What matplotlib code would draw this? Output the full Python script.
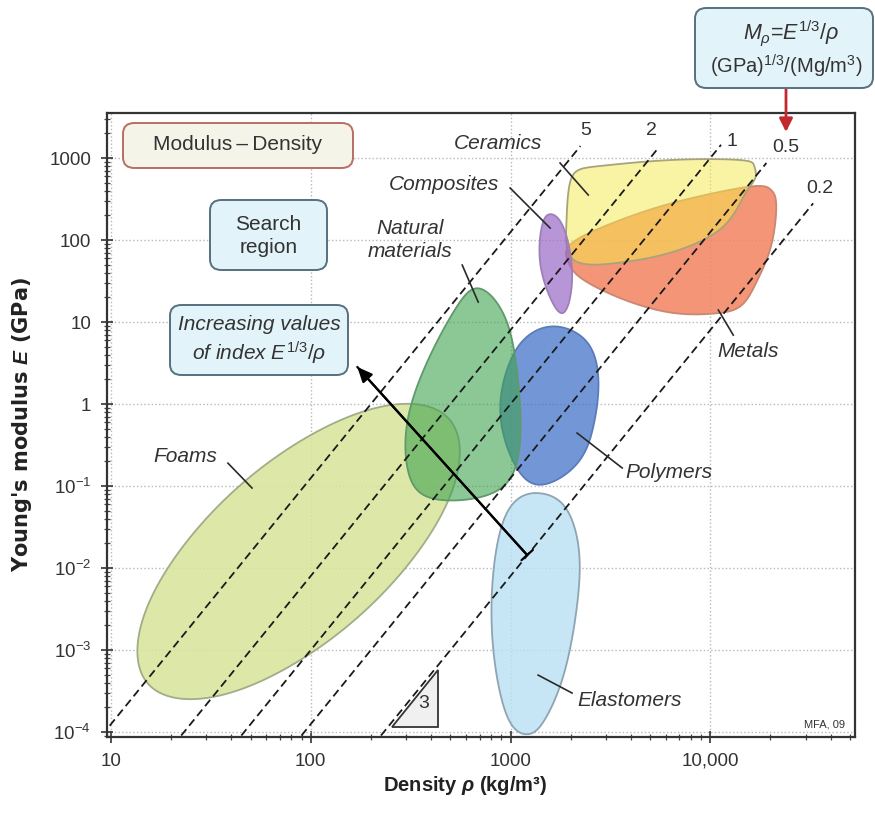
import numpy as np
import matplotlib
matplotlib.use("Agg")
import matplotlib.pyplot as plt
from matplotlib.colors import to_rgba
from matplotlib.patches import FancyBboxPatch, Polygon
from matplotlib.ticker import FixedLocator, FixedFormatter, LogLocator, NullFormatter

plt.rcParams['font.family'] = ['Liberation Sans', 'DejaVu Sans']
plt.rcParams['mathtext.fontset'] = 'custom'
plt.rcParams['mathtext.rm'] = 'Liberation Sans'
plt.rcParams['mathtext.it'] = 'Liberation Sans:italic'
plt.rcParams['mathtext.bf'] = 'Liberation Sans:italic:bold'
plt.rcParams['mathtext.default'] = 'regular'

# ---- material-family envelopes: density (kg/m^3), Young's modulus (GPa) ----
FOAMS_RHO = [494, 186, 44.7, 15.9, 15.3, 40.9, 170, 476]
FOAMS_E = [0.65, 0.82, 0.104, 4.34e-3, 3.9e-4, 3.09e-4, 2.45e-3, 0.0583]

NATURAL_RHO = [700, 944, 1084, 1122, 1012, 700, 403, 309, 305, 385, 531]
NATURAL_E = [25.6, 11.0, 2.21, 0.469, 0.132, 0.0729, 0.071, 0.1435, 0.621, 3.37, 14.6]

COMPOSITES_RHO = [1567, 1820, 2018, 1995, 1841, 1622, 1413, 1429]
COMPOSITES_E = [206, 151, 53.4, 21.0, 13.0, 17.3, 49, 139]

POLYMERS_RHO = [1718, 2427, 2754, 2600, 2163, 1479, 1084, 891, 989, 1245]
POLYMERS_E = [8.79, 5.6, 1.92, 0.54, 0.19, 0.105, 0.161, 0.715, 3.18, 7.0]

ELASTOMERS_RHO = [1396, 1862, 2188, 2163, 1862, 1479, 1216, 966, 822, 813, 902, 1084]
ELASTOMERS_E = [0.0817, 0.0566, 0.0183, 3.89e-3, 5.41e-4, 1.40e-4, 9.42e-5,
                1.52e-4, 9.5e-4, 6.84e-3, 0.0322, 0.0689]

CERAMICS_RHO = [2018, 2786, 6383, 13960, 16600, 16790, 14790, 11350, 6383, 3589, 2089, 1905]
CERAMICS_E = [569, 798, 946, 946, 798, 569, 352, 139, 70.7, 53.4, 56.5, 165]

METALS_RHO = [1972, 2951, 5248, 9333, 16600, 20180, 21380, 20180, 17180, 14290,
              10470, 6383, 3589, 2265, 1950]
METALS_E = [86.1, 147, 244, 352, 454, 406, 266, 86.1, 32.1, 15.9, 12.7, 13.0, 19.3, 34.0, 53.4]

# ---- index lines M = E^(1/3)/rho, (GPa)^(1/3)/(Mg/m^3) ----
MP_VALUES = [5, 2, 1, 0.5, 0.2]
LINE_TOP_E = [1400, 1250, 1450, 870, 280]
MP_LABEL_RHO = [2390, 5070, 12880, 23990, 35480]
MP_LABEL_E = [2190, 2190, 1570, 1325, 430]

# ---- axis ticks ----
X_TICKS = [10, 100, 1000, 10000]
X_TICK_LABELS = ['10', '100', '1000', '10,000']
Y_TICKS = [1e-4, 1e-3, 1e-2, 1e-1, 1, 10, 100, 1000]
Y_TICK_LABELS = ['$10^{-4}$', '$10^{-3}$', '$10^{-2}$', '$10^{-1}$', '1', '10', '100', '1000']

W, H = 875, 818
fig = plt.figure(figsize=(W / 100, H / 100), dpi=100)
fig.patch.set_facecolor('white')
ax = fig.add_axes([107 / W, 1 - 737 / H, 748 / W, 624 / H])
ax.set_xscale('log')
ax.set_yscale('log')
ax.set_xlim(9.55, 53000)
ax.set_ylim(8.7e-5, 3540)


def closed_spline(xs, ys, n=40):
    """Periodic cubic spline through envelope points, built in log-log space."""
    P = np.column_stack([np.log10(xs), np.log10(ys)])
    N = len(P)
    A = np.zeros((N, N))
    for i in range(N):
        A[i, i] = 4.0
        A[i, (i - 1) % N] = 1.0
        A[i, (i + 1) % N] = 1.0
    rhs = 6.0 * (np.roll(P, -1, 0) - 2 * P + np.roll(P, 1, 0))
    M = np.linalg.solve(A, rhs)
    t = np.linspace(0, 1, n, endpoint=False)[:, None]
    segs = []
    for i in range(N):
        p0, p1 = P[i], P[(i + 1) % N]
        m0, m1 = M[i], M[(i + 1) % N]
        segs.append((1 - t) * p0 + t * p1
                    + ((1 - t) ** 3 - (1 - t)) * m0 / 6 + (t ** 3 - t) * m1 / 6)
    C = np.vstack(segs)
    return 10 ** C[:, 0], 10 ** C[:, 1]


def family(rho, E, face, alpha, edge, z):
    x, y = closed_spline(rho, E)
    ax.fill(x, y, facecolor=to_rgba(face, alpha), edgecolor=edge, lw=1.3, zorder=z)


family(FOAMS_RHO, FOAMS_E, '#d9e49c', 0.88, '#9fae88', 2)
family(POLYMERS_RHO, POLYMERS_E, '#4473ca', 0.75, '#5a7cb8', 3)
family(NATURAL_RHO, NATURAL_E, '#3fa350', 0.6, '#5f9a6c', 4)
family(ELASTOMERS_RHO, ELASTOMERS_E, '#bae0f3', 0.8, '#8ea4b2', 3)
family(METALS_RHO, METALS_E, '#f4835f', 0.85, '#c98872', 3)
family(CERAMICS_RHO, CERAMICS_E, '#f5eb4b', 0.5, '#a8a47a', 4)
family(COMPOSITES_RHO, COMPOSITES_E, '#9b69c6', 0.7, '#9c80b8', 5)

# index lines
for m, etop, lr, le in zip(MP_VALUES, LINE_TOP_E, MP_LABEL_RHO, MP_LABEL_E):
    E = np.array([1e-5, etop])
    rho = 1000.0 * E ** (1 / 3) / m
    ax.plot(rho, E, ls=(0, (4.5, 2.5)), color='#1a1a1a', lw=1.3, zorder=6)
    ax.text(lr, le, f'{m:g}', fontsize=14, color='#333333', ha='center', va='center', zorder=8)

# family names with leader lines
family_labels = [
    ("Ceramics", (867, 1524), (1770, 869), (2449, 354)),
    ("Composites", (466, 482), (995, 431), (1578, 140)),
    ("Natural\nmaterials", (314, 100), (573, 49.5), (689, 17.5)),
    ("Foams", (23.5, 0.226), (38.5, 0.19), (50.8, 0.0946)),
    ("Polymers", (6223, 0.148), (2153, 0.443), (3622, 0.166)),
    ("Elastomers", (3927, 2.45e-4), (1374, 4.95e-4), (2032, 2.99e-4)),
    ("Metals", (15490, 4.43), (10970, 14.0), (13030, 6.93)),
]
for name, (tx, ty), (ax0, ay0), (ax1, ay1) in family_labels:
    ax.text(tx, ty, name, fontsize=15, style='italic', color='#333333',
            ha='center', va='center', linespacing=1.25, zorder=8)
    ax.plot([ax0, ax1], [ay0, ay1], color='#2a2a2a', lw=1.2, zorder=7)

# slope triangle
tri = Polygon([[254, 1.15e-4], [432, 1.15e-4], [432, 1.15e-4 * (432 / 254) ** 3]],
              closed=True, facecolor='#f0f0f0', edgecolor='#333333', lw=1.3, zorder=6)
ax.add_patch(tri)
ax.text(368, 2.2e-4, '3', fontsize=14, color='#333333', ha='center', va='center', zorder=8)

# direction of increasing index
tail = (1211, 0.0144)
head = (171, 2.83)
ax.annotate('', xy=head, xytext=tail,
            arrowprops=dict(arrowstyle='-|>,head_length=0.9,head_width=0.4',
                            color='black', lw=1.6, shrinkA=0, shrinkB=0), zorder=9)
ax.annotate('', xy=tail, xytext=head,
            arrowprops=dict(arrowstyle='-[,widthB=0.55,lengthB=0',
                            color='black', lw=1.6, shrinkA=0, shrinkB=0), zorder=9)

ax.text(0.987, 0.012, 'MFA, 09', transform=ax.transAxes, fontsize=8,
        color='#333333', ha='right', va='bottom', zorder=8)

# axes styling
ax.xaxis.set_major_locator(FixedLocator(X_TICKS))
ax.xaxis.set_major_formatter(FixedFormatter(X_TICK_LABELS))
ax.yaxis.set_major_locator(FixedLocator(Y_TICKS))
ax.yaxis.set_major_formatter(FixedFormatter(Y_TICK_LABELS))
ax.xaxis.set_minor_locator(LogLocator(base=10, subs=np.arange(2, 10), numticks=20))
ax.yaxis.set_minor_locator(LogLocator(base=10, subs=np.arange(2, 10), numticks=20))
ax.xaxis.set_minor_formatter(NullFormatter())
ax.yaxis.set_minor_formatter(NullFormatter())
ax.tick_params(which='major', direction='inout', length=9, width=1.2,
               labelsize=13.5, pad=7, colors='#333333', top=False, right=False)
ax.tick_params(which='minor', direction='inout', length=5, width=0.9,
               colors='#444444', top=False, right=False)
ax.grid(which='major', color='#b8b8b8', linestyle=':', linewidth=1.0, zorder=0)
ax.set_axisbelow(True)
for s in ax.spines.values():
    s.set_linewidth(1.6)
    s.set_color('#333333')

ax.set_xlabel('Density $\\mathbf{\\rho}$ (kg/m³)', fontsize=14.5, fontweight='bold', color='#222222')
ax.set_ylabel("Young's modulus $\\mathbf{E}$ (GPa)", fontsize=15, fontweight='bold',
              color='#222222', family=['DejaVu Sans'])
ax.xaxis.set_label_coords(0.4786, -0.059)
ax.yaxis.set_label_coords(-0.098, 0.5)


# rounded annotation boxes (figure pixel layout)
def rounded_box(x0, y0, x1, y1, face, edge):
    p = FancyBboxPatch((x0 / W, 1 - y1 / H), (x1 - x0) / W, (y1 - y0) / H,
                       boxstyle='round,pad=0,rounding_size=0.013',
                       transform=fig.transFigure, facecolor=face, edgecolor=edge,
                       lw=1.4, zorder=10)
    fig.add_artist(p)


def box_text(cx, cy, s, **kw):
    fig.text(cx / W, 1 - cy / H, s, ha='center', va='center', color='#333333',
             zorder=11, **kw)


rounded_box(123, 123, 353, 168, '#f5f4e8', '#b86e64')
box_text(238, 145, 'Modulus\u2009\u2013\u2009Density', fontsize=15)

rounded_box(210, 200, 327, 270, '#e3f3fa', '#55707e')
box_text(268.5, 236, 'Search\nregion', fontsize=15, linespacing=1.3)

rounded_box(170, 305, 348, 375, '#e3f3fa', '#55707e')
box_text(259, 341, 'Increasing values\nof index $\\mathit{E}^{\\mathit{1/3}}\\mathit{/\\rho}$',
         fontsize=15, style='italic', linespacing=1.3)

rounded_box(695, 8, 873, 88, '#e3f3fa', '#55707e')
box_text(791, 33, '$\\mathit{M}_{\\mathit{\\rho}}$=$\\mathit{E}^{\\mathit{1/3}}\\mathit{/\\rho}$',
         fontsize=15.5)
box_text(786, 66, '(GPa)$^{1/3}$/(Mg/m$^{3}$)', fontsize=14.5)

ax.annotate('', xy=(786 / W, 1 - 132 / H), xytext=(786 / W, 1 - 88 / H),
            xycoords='figure fraction', textcoords='figure fraction',
            annotation_clip=False,
            arrowprops=dict(arrowstyle='-|>,head_length=0.8,head_width=0.4',
                            color='#c3282e', lw=2.0, shrinkA=0, shrinkB=0))

fig.savefig('out.png', dpi=100, facecolor='white')
